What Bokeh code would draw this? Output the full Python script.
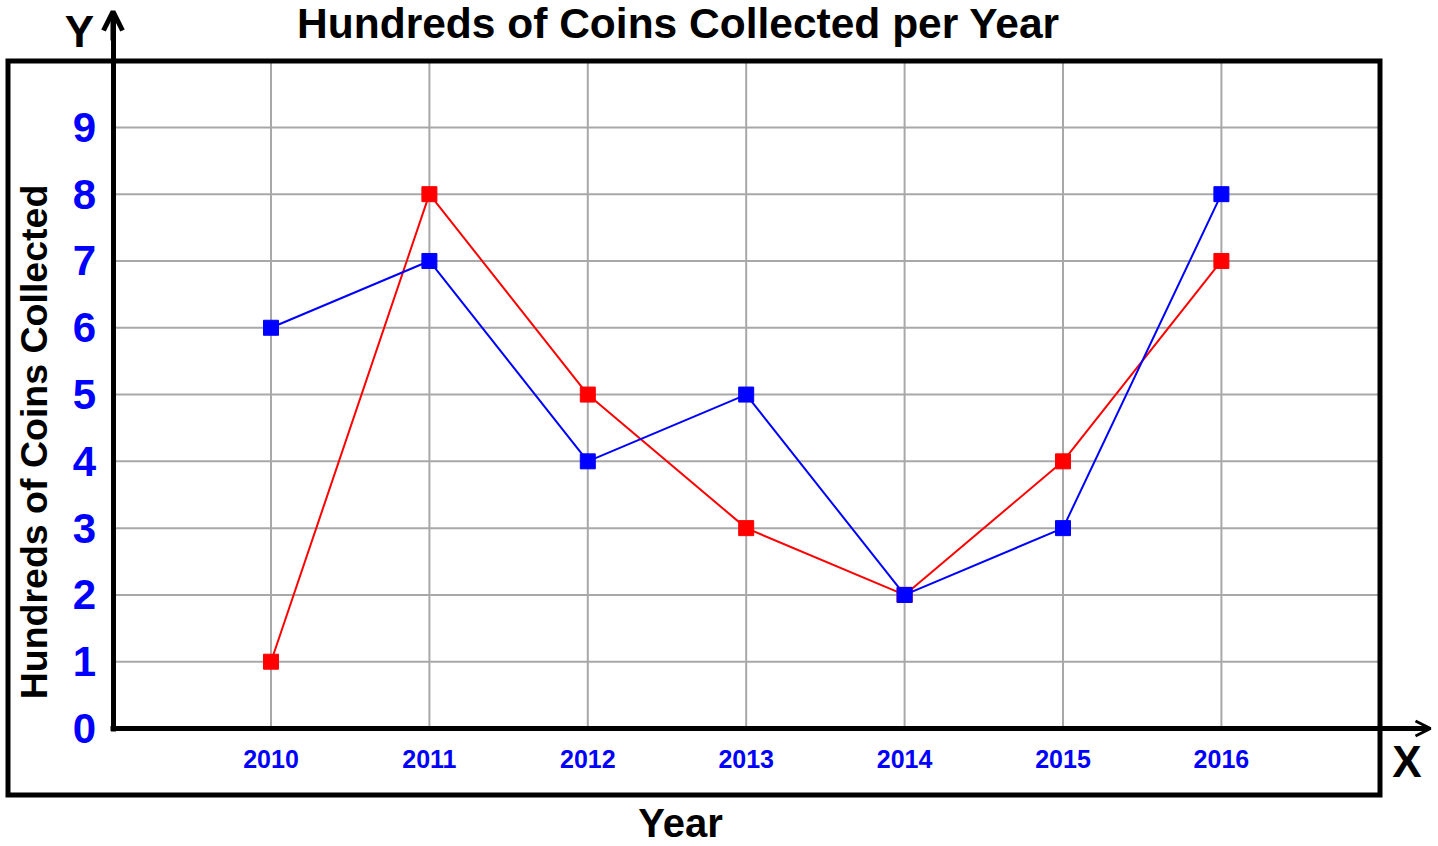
import math
from bokeh.plotting import figure
from bokeh.models import Range1d, LinearAxis, FixedTicker, Arrow, OpenHead
from bokeh.core.properties import value
from bokeh.embed import file_html
from bokeh.resources import INLINE

# ---------------- data ----------------
title_text = "Hundreds of Coins Collected per Year"
x_label = "Year"
y_label = "Hundreds of Coins Collected"
x_letter = "X"
y_letter = "Y"
years = [2010, 2011, 2012, 2013, 2014, 2015, 2016]
blue_values = [6, 7, 4, 5, 2, 3, 8]
red_values = [1, 8, 5, 3, 2, 4, 7]
y_ticks = [0, 1, 2, 3, 4, 5, 6, 7, 8, 9]

# ---------------- layout calibration (picture pixels) ----------------
W, H = 1438, 846
OFF = 0
X_REF_PX, X_STEP_PX = 270.5, 158.4   # first year position, pixels per year
Y_REF_PX, Y_STEP_PX = 728.0, 66.79   # zero position, pixels per unit


def xd(px):
    return years[0] + (px - X_REF_PX) / X_STEP_PX


def yd(py):
    return (Y_REF_PX - py) / Y_STEP_PX


FONT = value("Liberation Sans")

p = figure(width=W, height=H, output_backend="svg", toolbar_location=None,
           x_axis_type=None, y_axis_type=None,
           x_range=Range1d(xd(OFF), xd(OFF + W)),
           y_range=Range1d(yd(OFF + H), yd(OFF)),
           min_border=0, min_border_left=0, min_border_right=0,
           min_border_top=0, min_border_bottom=0)
p.outline_line_color = None
p.background_fill_color = "white"
p.border_fill_color = "white"

GRID = "#a8a8a8"
# vertical grid lines (from x-axis up to the frame top)
p.segment(x0=years, y0=[0] * len(years), x1=years, y1=[yd(60.5)] * len(years),
          line_color=GRID, line_width=2)
# horizontal grid lines (from y-axis to the frame right)
p.segment(x0=[xd(112.5)] * (len(y_ticks) - 1), y0=y_ticks[1:],
          x1=[xd(1379.5)] * (len(y_ticks) - 1), y1=y_ticks[1:],
          line_color=GRID, line_width=2)

# outer box
p.quad(left=[xd(7.5)], right=[xd(1379.5)], bottom=[yd(794.5)], top=[yd(60.5)],
       fill_color=None, line_color="black", line_width=5, line_join="miter")

# series
p.line(years, red_values, line_color="#ff0000", line_width=2)
p.scatter(years, red_values, marker="square", size=15, fill_color="#ff0000",
          line_color="#ff0000")
p.line(years, blue_values, line_color="#0000ff", line_width=2)
p.scatter(years, blue_values, marker="square", size=15, fill_color="#0000ff",
          line_color="#0000ff")

# axes at fixed locations
yax = LinearAxis(fixed_location=xd(112.5), ticker=FixedTicker(ticks=y_ticks),
                 bounds=(yd(730.5), yd(14)))
yax.axis_line_width = 5
yax.axis_line_color = "black"
yax.major_tick_in = 0
yax.major_tick_out = 0
yax.minor_tick_in = 0
yax.minor_tick_out = 0
yax.major_label_standoff = 17
yax.major_label_text_color = "#0000ff"
yax.major_label_text_font = "Liberation Sans"
yax.major_label_text_font_style = "bold"
yax.major_label_text_font_size = "42px"
p.add_layout(yax, "left")

xax = LinearAxis(fixed_location=0, ticker=FixedTicker(ticks=years),
                 bounds=(xd(110), xd(1426)))
xax.axis_line_width = 5
xax.axis_line_color = "black"
xax.major_tick_in = 0
xax.major_tick_out = 0
xax.minor_tick_in = 0
xax.minor_tick_out = 0
xax.major_label_standoff = 21
xax.major_label_text_color = "#0000ff"
xax.major_label_text_font = "Liberation Sans"
xax.major_label_text_font_style = "bold"
xax.major_label_text_font_size = "25px"
p.add_layout(xax, "below")

# arrow heads
p.add_layout(Arrow(end=OpenHead(size=19, line_width=5, line_color="black"),
                   x_start=xd(112.5), y_start=yd(40), x_end=xd(112.5), y_end=yd(11),
                   line_width=5, line_color="black"))
p.add_layout(Arrow(end=OpenHead(size=15, line_width=3, line_color="black"),
                   x_start=xd(1400), y_start=0, x_end=xd(1430), y_end=0,
                   line_width=5, line_color="black"))

# texts (baseline positions corrected for the renderer's text offset)
p.text(x=[xd(678)], y=[yd(23)], text=[title_text], text_font=FONT,
       text_font_style="bold", text_font_size="42.5px", text_align="center",
       text_baseline="alphabetic", text_color="black")
p.text(x=[xd(680)], y=[yd(822)], text=[x_label], text_font=FONT,
       text_font_style="bold", text_font_size="40px", text_align="center",
       text_baseline="alphabetic", text_color="black")
p.text(x=[xd(33)], y=[yd(441.5)], text=[y_label], text_font=FONT,
       text_font_style="bold", text_font_size="37.5px", text_align="center",
       text_baseline="alphabetic", text_color="black", angle=math.pi / 2)
p.text(x=[xd(79)], y=[yd(31)], text=[y_letter], text_font=FONT,
       text_font_style="bold", text_font_size="44px", text_align="center",
       text_baseline="alphabetic", text_color="black")
p.text(x=[xd(1406.5)], y=[yd(761)], text=[x_letter], text_font=FONT,
       text_font_style="bold", text_font_size="44px", text_align="center",
       text_baseline="alphabetic", text_color="black")

open("out.html", "w").write(file_html(p, INLINE))
